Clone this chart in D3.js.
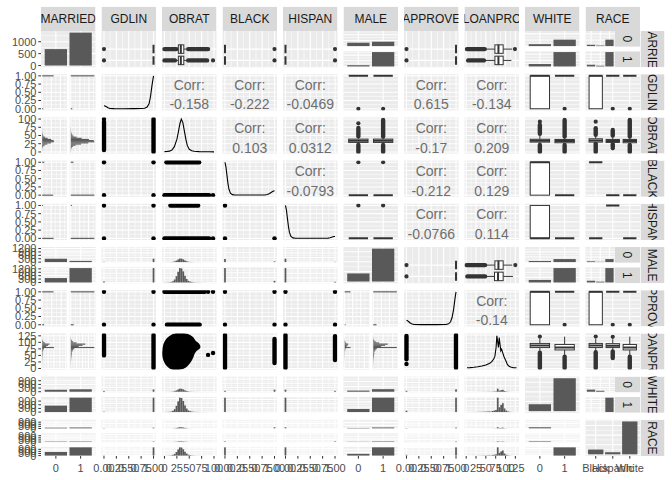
<!DOCTYPE html>
<html><head><meta charset="utf-8">
<script src="https://cdn.jsdelivr.net/npm/d3@7"></script>
<style>html,body{margin:0;padding:0;background:#fff;}svg{display:block;}</style>
</head><body><svg id="chart" width="672" height="480"></svg>
<script>
// ---------------- data ----------------
const variables = ["MARRIED","GDLIN","OBRAT","BLACK","HISPAN","MALE","APPROVE","LOANPRC","WHITE","RACE"];
const factorLevels = { MARRIED:["0","1"], MALE:["0","1"], WHITE:["0","1"], RACE:["Black","Hispanic","White"] };
const factorCounts = { MARRIED:[690,1380], MALE:[410,1660], WHITE:[360,1710], RACE:[250,110,1710] };
const crossTabs = {
  "MARRIED|MALE":  [[300,390],[110,1270]],
  "MARRIED|WHITE": [[160,530],[200,1180]],
  "MARRIED|RACE":  [[110,50,530],[140,60,1180]],
  "MALE|WHITE":    [[110,300],[250,1410]],
  "MALE|RACE":     [[80,30,300],[170,80,1410]],
  "WHITE|RACE":    [[250,110,0],[0,0,1710]]
};
const binaryVars = ["GDLIN","BLACK","HISPAN","APPROVE"];
const onesByFactor = {
  GDLIN:   { MARRIED:[630,1295], MALE:[375,1550], WHITE:[265,1660], RACE:[170,95,1660] },
  BLACK:   { MARRIED:[110,140],  MALE:[80,170],   WHITE:[250,0],    RACE:[250,0,0] },
  HISPAN:  { MARRIED:[50,60],    MALE:[30,80],    WHITE:[110,0],    RACE:[0,110,0] },
  APPROVE: { MARRIED:[590,1230], MALE:[360,1460], WHITE:[260,1560], RACE:[170,90,1560] }
};
const numRange = { GDLIN:[0,1], OBRAT:[0,100], BLACK:[0,1], HISPAN:[0,1], APPROVE:[0,1], LOANPRC:[2,128] };
const unitBreaks = [0,0.25,0.5,0.75,1];
const unitLabels = ["0.00","0.25","0.50","0.75","1.00"];
const obratBreaks = [0,25,50,75,100];
const obratLabels = ["0","25","50","75","100"];
const loanBreaks = [0,25,50,75,100,125];
const loanLabels = ["0","25","50","75","100","125"];
const countTicksLeft = { MARRIED:[0,500,1000], MALE:[0,300,600,900,1200], WHITE:[0,300,600,900], RACE:[0,300,600,900] };
const obratHist = [4,3,5,8,15,35,80,170,290,390,380,300,180,95,45,25,14,8,5,4,3,2,2,1,1,1,0,0,1,1];
const loanHist  = [2,2,3,3,4,5,6,8,10,12,15,18,22,26,20,45,60,90,600,200,300,370,150,60,25,12,6,3,2,1];
const gdlinDensX = [0,0.02,0.05,0.08,0.12,0.2,0.4,0.6,0.75,0.82,0.87,0.91,0.94,0.97,1];
const gdlinDensY = [0.09,0.085,0.06,0.03,0.01,0.003,0.002,0.003,0.006,0.015,0.05,0.15,0.38,0.72,1];
const blackDensX = [0,0.02,0.04,0.06,0.08,0.11,0.15,0.2,0.4,0.6,0.8,0.86,0.9,0.93,0.96,0.98,1];
const blackDensY = [1,0.85,0.6,0.36,0.18,0.06,0.015,0.004,0.003,0.003,0.006,0.02,0.05,0.08,0.11,0.125,0.13];
const hispanDensX = [0,0.02,0.04,0.06,0.08,0.11,0.15,0.2,0.4,0.6,0.8,0.86,0.9,0.93,0.96,0.98,1];
const hispanDensY = [1,0.85,0.6,0.36,0.18,0.06,0.015,0.004,0.002,0.002,0.003,0.008,0.02,0.035,0.05,0.055,0.058];
const approveDensX = [0,0.02,0.04,0.07,0.1,0.15,0.3,0.6,0.8,0.85,0.89,0.92,0.95,0.98,1];
const approveDensY = [0.14,0.125,0.1,0.06,0.03,0.01,0.004,0.004,0.01,0.03,0.09,0.22,0.45,0.8,1];
const obratDensX = [0,5,10,15,20,25,28,31,34,37,40,43,46,50,55,60,70,80,90,100];
const obratDensY = [0.01,0.012,0.025,0.06,0.16,0.38,0.6,0.85,1,0.9,0.65,0.4,0.2,0.08,0.035,0.02,0.01,0.006,0.004,0.003];
const loanDensX = [2,10,20,30,40,50,60,65,70,73,76,78,80,82,84,86,88,90,93,96,100,105,110,115,120,128];
const loanDensY = [0.005,0.01,0.02,0.035,0.06,0.09,0.14,0.19,0.27,0.35,0.62,0.98,0.8,0.62,0.92,0.72,0.52,0.57,0.46,0.35,0.24,0.1,0.04,0.02,0.01,0.004];
const corrValues = {
  "GDLIN|OBRAT":-0.158, "GDLIN|BLACK":-0.222, "GDLIN|HISPAN":-0.0469, "GDLIN|APPROVE":0.615, "GDLIN|LOANPRC":-0.134,
  "OBRAT|BLACK":0.103, "OBRAT|HISPAN":0.0312, "OBRAT|APPROVE":-0.17, "OBRAT|LOANPRC":0.209,
  "BLACK|HISPAN":-0.0793, "BLACK|APPROVE":-0.212, "BLACK|LOANPRC":0.129,
  "HISPAN|APPROVE":-0.0766, "HISPAN|LOANPRC":0.114, "APPROVE|LOANPRC":-0.14
};
// box stats: [lowOutFrom, lowOutTo, whiskerLow, q1, median, q3, whiskerHigh, highOutFrom, highOutTo]
const obratBoxByFactor = {
  MARRIED: [[0,21,22,28,33,39,46,48,86],[0,24,25,28,33,39,46,48,88]],
  MALE:    [[0,21,23,29,34,39,46,48,73],[0,21,23,29,34,39,46,47,97]],
  WHITE:   [[0,21,22,30,34,38.5,50,55,82],[0,21,22,28,33,38,46,47,97]],
  RACE:    [[0,26,27,30,35,40,48,52,72],[16,24,25,29,33,38,45,50,67],[0,21,22,28,33,38,46,47,97]]
};
const obratBoxPoints = { MARRIED:[[98],[]], MALE:[[87],[]], WHITE:[[92],[]], RACE:[[92],[11],[]] };
const loanBoxByFactor = {
  MARRIED: [[5,45,45,73,82,94,115,null,null],[2,47,47,73,82,94,117,null,null]],
  MALE:    [[3,48,48,72,81,94,119,null,null],[1,48,48,73,82,94,117,null,null]],
  WHITE:   [[2,60,62,80,88,96,115,null,null],[2,45,47,71,80,92,122,null,null]],
  RACE:    [[2,62,64,80,88,96,113,null,null],[40,65,66,80,87,95,112,null,null],[2,45,47,71,80,92,122,null,null]]
};
const loanBoxPoints = { MARRIED:[[],[124]], MALE:[[],[125]], WHITE:[[122],[]], RACE:[[122],[121],[]] };
// scatter summaries
const binaryCombos = {
  "GDLIN|BLACK":[[0,0],[0,1],[1,0],[1,1]], "GDLIN|HISPAN":[[0,0],[0,1],[1,0],[1,1]], "BLACK|HISPAN":[[0,0],[0,1],[1,0]],
  "GDLIN|APPROVE":[[0,0],[0,1],[1,0],[1,1]], "BLACK|APPROVE":[[0,0],[0,1],[1,0],[1,1]], "HISPAN|APPROVE":[[0,0],[0,1],[1,0],[1,1]]
};
const obratRangeByBinary = { GDLIN:[[6,92],[0,100]], BLACK:[[0,90],[4,70]], HISPAN:[[0,90],[12,68]], APPROVE:[[5,71],[0,81]] };
const obratPointsByBinary = { GDLIN:[[100],[]], BLACK:[[98],[]], HISPAN:[[98],[]], APPROVE:[[],[88,98]] };
const loanRangeByBinary = { GDLIN:[[50,128],[2,128]], BLACK:[[2,128],[21,113]], HISPAN:[[2,128],[32,124]], APPROVE:[[35,125],[2,128]] };
const loanPointsByBinary = { GDLIN:[[],[]], BLACK:[[],[]], HISPAN:[[],[]], APPROVE:[[17],[]] };
const blobObrat = [0,2,8,16,26,36,46,54,60,66,68,62,57,54,48,40,30,20,12,5,1];
const blobLoan  = [60,90,110,122,128,128,124,115,100,90,82,74,60,45,25,10,3,2,8,22,40];
const blobPtsObrat = [88,98];
const blobPtsLoan = [52,59];

// ---------------- rendering ----------------
const densityOf = { GDLIN:[gdlinDensX,gdlinDensY], BLACK:[blackDensX,blackDensY], HISPAN:[hispanDensX,hispanDensY],
  APPROVE:[approveDensX,approveDensY], OBRAT:[obratDensX,obratDensY], LOANPRC:[loanDensX,loanDensY] };
const svg = d3.select("#chart").style("font-family",'"Liberation Sans", Arial, Helvetica, sans-serif');
const defs = svg.append("defs");
const BG="#EBEBEB", BAR="#595959", INK="#333333", STRIP="#D9D9D9";
const PL=41, PTOP=31, PR=640, PB=456, GX=6, GY=7;
const PW=(PR-PL-9*GX)/10, PH=(PB-PTOP-9*GY)/10;
const FGV=4.5, FGH=2.7, STRIPW=25;
const isF = v => Object.prototype.hasOwnProperty.call(factorLevels, v);
const isBin = v => binaryVars.includes(v);
let clipN=0;
function clip(x,y,w,h){ const id="cp"+(clipN++); defs.append("clipPath").attr("id",id).append("rect").attr("x",x).attr("y",y).attr("width",w).attr("height",h); return "url(#"+id+")"; }
const breaksOf = v => v==="OBRAT"?obratBreaks:(v==="LOANPRC"?loanBreaks:unitBreaks);
const labelsOf = v => v==="OBRAT"?obratLabels:(v==="LOANPRC"?loanLabels:unitLabels);
function numScale(v,r0,r1){ const [a,b]=numRange[v], e=(b-a)*0.05; return d3.scaleLinear().domain([a-e,b+e]).range([r0,r1]); }
function discScale(n,r0,r1){ return d3.scaleLinear().domain([0.4,n+0.6]).range([r0,r1]); }
function countScale(m,r0,r1){ return d3.scaleLinear().domain([-0.05*m,1.05*m]).range([r0,r1]); }
function inDom(sc,v){ const d=sc.domain(); return v>=Math.min(d[0],d[1])-1e-9 && v<=Math.max(d[0],d[1])+1e-9; }
function numGrid(v,sc){ const br=breaksOf(v), st=br[1]-br[0]; const mn=[br[0]-st/2].concat(br.map(b=>b+st/2));
  return {maj:br.filter(b=>inDom(sc,b)).map(sc), min:mn.filter(b=>inDom(sc,b)).map(sc)}; }
function countGrid(t,sc){ const st=t.length>1?t[1]-t[0]:1; const mn=t.map(x=>x+st/2);
  return {maj:t.filter(x=>inDom(sc,x)).map(sc), min:mn.filter(x=>inDom(sc,x)).map(sc)}; }
function discGrid(n,sc){ return {maj:d3.range(1,n+1).map(sc), min:[]}; }
const panelLayer = svg.append("g");
const axisG = svg.append("g").attr("font-size",11).attr("fill","#4D4D4D");
function panelBg(x,y,w,h,gx,gy){
  const g=panelLayer.append("g");
  g.append("rect").attr("x",x).attr("y",y).attr("width",w).attr("height",h).attr("fill",BG);
  const gl=g.append("g").attr("stroke","#fff");
  const vl=(arr,sw)=>arr.forEach(p=>gl.append("line").attr("x1",p).attr("x2",p).attr("y1",y).attr("y2",y+h).attr("stroke-width",sw));
  const hl=(arr,sw)=>arr.forEach(p=>gl.append("line").attr("y1",p).attr("y2",p).attr("x1",x).attr("x2",x+w).attr("stroke-width",sw));
  vl(gx.min,0.55); hl(gy.min,0.55); vl(gx.maj,1.1); hl(gy.maj,1.1);
}
function marks(x,y,w,h){ return panelLayer.append("g").attr("clip-path",clip(x,y,w,h)); }
function leftAxis(ys,labels){ ys.forEach((y,i)=>{
  axisG.append("line").attr("x1",PL-2.7).attr("x2",PL).attr("y1",y).attr("y2",y).attr("stroke",INK).attr("stroke-width",1);
  axisG.append("text").attr("x",PL-4.6).attr("y",y).attr("dy","0.36em").attr("text-anchor","end").text(labels[i]); }); }
function bottomAxis(xs,labels){ xs.forEach((x,i)=>{
  axisG.append("line").attr("x1",x).attr("x2",x).attr("y1",PB).attr("y2",PB+2.7).attr("stroke",INK).attr("stroke-width",1);
  axisG.append("text").attr("x",x).attr("y",PB+15.5).attr("text-anchor","middle").text(labels[i]); }); }
function dot(g,x,y){ g.append("circle").attr("cx",x).attr("cy",y).attr("r",2.2).attr("fill","#000"); }
function thick(g,x1,y1,x2,y2,col){ g.append("line").attr("x1",x1).attr("y1",y1).attr("x2",x2).attr("y2",y2).attr("stroke",col||"#000").attr("stroke-width",4.4).attr("stroke-linecap","round"); }

function binaryStats(ones,tot){ const z=(tot-ones)/tot; const q1=z>0.25?0:1, med=z>0.5?0:1, q3=z>0.75?0:1;
  if(q1===q3){ const pts = q1===1 ? (tot-ones>0?[0]:[]) : (ones>0?[1]:[]); return {lo:null,hi:null,wlo:q1,whi:q1,q1,med,q3,pts}; }
  return {lo:null,hi:null,wlo:0,whi:1,q1,med,q3,pts:[]}; }
function boxStats(F,V,i){
  if(isBin(V)) return binaryStats(onesByFactor[V][F][i], factorCounts[F][i]);
  const a=(V==="OBRAT"?obratBoxByFactor:loanBoxByFactor)[F][i], pts=(V==="OBRAT"?obratBoxPoints:loanBoxPoints)[F][i];
  return {lo:a[0]==null?null:[a[0],a[1]], wlo:a[2], q1:a[3], med:a[4], q3:a[5], whi:a[6], hi:a[7]==null?null:[a[7],a[8]], pts}; }
function drawBox(g,o,pos,hw,s,sc){
  const L=(a,b,sw,cap)=>{ const l=g.append("line").attr("stroke",INK).attr("stroke-width",sw).attr("stroke-linecap",cap||"butt");
    if(o==="v") l.attr("x1",pos).attr("x2",pos).attr("y1",sc(a)).attr("y2",sc(b)); else l.attr("y1",pos).attr("y2",pos).attr("x1",sc(a)).attr("x2",sc(b)); };
  if(s.lo) L(s.lo[0],s.lo[1],4.4,"round");
  if(s.hi) L(s.hi[0],s.hi[1],4.4,"round");
  s.pts.forEach(p=>g.append("circle").attr("r",2.1).attr("fill",INK).attr(o==="v"?"cx":"cy",pos).attr(o==="v"?"cy":"cx",sc(p)));
  if(s.wlo<s.q1) L(s.wlo,s.q1,1); if(s.whi>s.q3) L(s.q3,s.whi,1);
  const a=sc(s.q1), b=sc(s.q3), m=sc(s.med);
  const r=g.append("rect").attr("fill","#fff").attr("stroke",INK).attr("stroke-width",1);
  if(o==="v"){ r.attr("x",pos-hw).attr("width",2*hw).attr("y",Math.min(a,b)).attr("height",Math.abs(a-b));
    g.append("line").attr("x1",pos-hw).attr("x2",pos+hw).attr("y1",m).attr("y2",m).attr("stroke",INK).attr("stroke-width",2); }
  else { r.attr("y",pos-hw).attr("height",2*hw).attr("x",Math.min(a,b)).attr("width",Math.abs(a-b));
    g.append("line").attr("y1",pos-hw).attr("y2",pos+hw).attr("x1",m).attr("x2",m).attr("stroke",INK).attr("stroke-width",2); }
}
function getTab(A,B){ const k=A+"|"+B; if(crossTabs[k]) return crossTabs[k];
  const t=crossTabs[B+"|"+A]; return t[0].map((_,j)=>t.map(row=>row[j])); }
function histFor(V,F,i){
  if(isBin(V)){ const ones=onesByFactor[V][F][i], tot=factorCounts[F][i]; return [{v:0,n:tot-ones},{v:1,n:ones}]; }
  const hist=V==="OBRAT"?obratHist:loanHist, [a,b]=numRange[V], st=(b-a)/29, share=factorCounts[F][i]/d3.sum(factorCounts[F]);
  return hist.map((cnt,k)=>({v:a+k*st, n:cnt*share})); }
const binW = V => (numRange[V][1]-numRange[V][0])/29;

function diagBar(v,x0,y0,w,h,r,c){
  const lv=factorLevels[v], cnt=factorCounts[v], n=lv.length, m=d3.max(cnt);
  const xs=discScale(n,x0,x0+w), ys=countScale(m,y0+h,y0);
  const ticks = c===0 ? countTicksLeft[v] : d3.ticks(0,m,4);
  panelBg(x0,y0,w,h,discGrid(n,xs),countGrid(ticks,ys));
  marks(x0,y0,w,h).selectAll("rect").data(cnt).join("rect").attr("x",(d,i)=>xs(i+0.55)).attr("width",xs(1.45)-xs(0.55))
    .attr("y",d=>ys(d)).attr("height",d=>ys(0)-ys(d)).attr("fill",BAR);
  if(c===0) leftAxis(ticks.map(ys),ticks.map(String));
  if(r===9) bottomAxis(lv.map((d,i)=>xs(i+1)),lv);
}
function diagDens(v,x0,y0,w,h){
  const [dx,dy]=densityOf[v]; const xs=numScale(v,x0,x0+w), ys=d3.scaleLinear().domain([-0.05,1.05]).range([y0+h,y0]);
  panelBg(x0,y0,w,h,numGrid(v,xs),countGrid([0,0.25,0.5,0.75,1],ys));
  marks(x0,y0,w,h).append("path").attr("d",d3.line().x(d=>xs(d[0])).y(d=>ys(d[1]))(d3.zip(dx,dy)))
    .attr("fill","none").attr("stroke","#000").attr("stroke-width",1.1);
}
function corrPanel(rv,cv,x0,y0,w,h){
  const xs=numScale(cv,x0,x0+w), ys=numScale(rv,y0+h,y0);
  panelBg(x0,y0,w,h,numGrid(cv,xs),numGrid(rv,ys));
  const t=panelLayer.append("g").attr("fill","#6E6E6E").attr("font-size",14).attr("text-anchor","middle");
  t.append("text").attr("x",x0+w/2).attr("y",y0+h*0.43).text("Corr:");
  t.append("text").attr("x",x0+w/2).attr("y",y0+h*0.97).text(String(corrValues[rv+"|"+cv]));
}
function hBoxPanel(F,V,x0,y0,w,h){
  const n=factorLevels[F].length; const xs=numScale(V,x0,x0+w), ys=d3.scaleLinear().domain([0.4,n+1.6]).range([y0+h,y0]);
  panelBg(x0,y0,w,h,numGrid(V,xs),discGrid(n,ys));
  const g=marks(x0,y0,w,h), hw=Math.abs(ys(0.375)-ys(0));
  factorLevels[F].forEach((l,i)=>drawBox(g,"h",ys(i+1),hw,boxStats(F,V,i),xs));
}
function vBoxPanel(F,V,x0,y0,w,h){
  const n=factorLevels[F].length; const xs=discScale(n,x0,x0+w), ys=numScale(V,y0+h,y0);
  panelBg(x0,y0,w,h,discGrid(n,xs),numGrid(V,ys));
  const g=marks(x0,y0,w,h), hw=xs(0.39)-xs(0);
  factorLevels[F].forEach((l,i)=>drawBox(g,"v",xs(i+1),hw,boxStats(F,V,i),ys));
}
function facetBarPanel(Rf,Cf,x0,y0,w,h,r,c){
  const tab=getTab(Rf,Cf), rl=factorLevels[Rf], cl=factorLevels[Cf], nR=rl.length, nC=cl.length, m=d3.max(tab.flat());
  const strip=(r<c && c===9), pw=w-(strip?STRIPW:0), fh=(h-(nR-1)*FGV)/nR;
  const xs=discScale(nC,x0,x0+pw);
  rl.forEach((lvl,i)=>{
    const fy=y0+i*(fh+FGV), ys=countScale(m,fy+fh,fy), ticks=c===0?countTicksLeft[Rf]:d3.ticks(0,m,3);
    panelBg(x0,fy,pw,fh,discGrid(nC,xs),countGrid(ticks,ys));
    marks(x0,fy,pw,fh).selectAll("rect").data(tab[i]).join("rect").attr("x",(d,j)=>xs(j+0.55)).attr("width",xs(1.45)-xs(0.55))
      .attr("y",d=>ys(d)).attr("height",d=>ys(0)-ys(d)).attr("fill",BAR);
    if(strip){ const sg=panelLayer.append("g").attr("clip-path",clip(x0+pw,fy,STRIPW,fh));
      sg.append("rect").attr("x",x0+pw).attr("y",fy).attr("width",STRIPW).attr("height",fh).attr("fill",STRIP);
      sg.append("text").attr("transform",`translate(${x0+pw+STRIPW/2},${fy+fh/2}) rotate(90)`).attr("text-anchor","middle")
        .attr("dy","0.36em").attr("font-size",12).attr("fill","#1A1A1A").text(lvl); }
    if(c===0) leftAxis(ticks.map(ys),ticks.map(String));
  });
  if(r===9) bottomAxis(cl.map((d,j)=>xs(j+1)),cl);
}
function hFacetHist(F,V,x0,y0,w,h,c){
  const lv=factorLevels[F], n=lv.length, fw=(w-(n-1)*FGH)/n, ys=numScale(V,y0+h,y0), bw=binW(V);
  const series=lv.map((l,i)=>histFor(V,F,i)), m=d3.max(series.flat(),d=>d.n);
  lv.forEach((l,i)=>{
    const fx=x0+i*(fw+FGH), xs=countScale(m,fx,fx+fw);
    panelBg(fx,y0,fw,h,countGrid(d3.ticks(0,m,3),xs),numGrid(V,ys));
    marks(fx,y0,fw,h).selectAll("rect").data(series[i].filter(d=>d.n>0)).join("rect").attr("x",xs(0)).attr("width",d=>xs(d.n)-xs(0))
      .attr("y",d=>ys(d.v+bw/2)).attr("height",d=>ys(d.v-bw/2)-ys(d.v+bw/2)).attr("fill",BAR);
  });
  if(c===0){ const br=breaksOf(V).filter(b=>inDom(ys,b)); leftAxis(br.map(ys),labelsOf(V)); }
}
function vFacetHist(F,V,x0,y0,w,h,r){
  const lv=factorLevels[F], n=lv.length, fh=(h-(n-1)*FGV)/n, xs=numScale(V,x0,x0+w), bw=binW(V);
  const series=lv.map((l,i)=>histFor(V,F,i)), m=d3.max(series.flat(),d=>d.n);
  lv.forEach((l,i)=>{
    const fy=y0+i*(fh+FGV), ys=countScale(m,fy+fh,fy);
    panelBg(x0,fy,w,fh,numGrid(V,xs),countGrid(d3.ticks(0,m,3),ys));
    marks(x0,fy,w,fh).selectAll("rect").data(series[i].filter(d=>d.n>0)).join("rect").attr("x",d=>xs(d.v-bw/2)).attr("width",d=>xs(d.v+bw/2)-xs(d.v-bw/2))
      .attr("y",d=>ys(d.n)).attr("height",d=>ys(0)-ys(d.n)).attr("fill",BAR);
  });
  if(r===9){ const br=breaksOf(V); bottomAxis(br.map(xs),labelsOf(V)); }
}
function scatterPanel(xv,yv,x0,y0,w,h){
  const xs=numScale(xv,x0,x0+w), ys=numScale(yv,y0+h,y0);
  panelBg(x0,y0,w,h,numGrid(xv,xs),numGrid(yv,ys));
  const g=marks(x0,y0,w,h);
  if(isBin(xv)&&isBin(yv)){ binaryCombos[xv+"|"+yv].forEach(([a,b])=>dot(g,xs(a),ys(b))); }
  else if(isBin(xv)){
    const R=(yv==="OBRAT"?obratRangeByBinary:loanRangeByBinary)[xv], P=(yv==="OBRAT"?obratPointsByBinary:loanPointsByBinary)[xv];
    R.forEach((rg,k)=>thick(g,xs(k),ys(rg[0]),xs(k),ys(rg[1])));
    P.forEach((ps,k)=>ps.forEach(p=>dot(g,xs(k),ys(p))));
  } else if(isBin(yv)){
    const R=obratRangeByBinary[yv], P=obratPointsByBinary[yv];
    R.forEach((rg,k)=>thick(g,xs(rg[0]),ys(k),xs(rg[1]),ys(k)));
    P.forEach((ps,k)=>ps.forEach(p=>dot(g,xs(p),ys(k))));
  } else {
    g.append("path").attr("d",d3.line().curve(d3.curveCardinalClosed).x(d=>xs(d[0])).y(d=>ys(d[1]))(d3.zip(blobObrat,blobLoan)))
      .attr("fill","#000").attr("stroke","#000").attr("stroke-width",4.4).attr("stroke-linejoin","round");
    blobPtsObrat.forEach((p,k)=>dot(g,xs(p),ys(blobPtsLoan[k])));
  }
}

for(let r=0;r<10;r++) for(let c=0;c<10;c++){
  const rv=variables[r], cv=variables[c], x0=PL+c*(PW+GX), y0=PTOP+r*(PH+GY);
  if(r===c){ if(isF(rv)) diagBar(rv,x0,y0,PW,PH,r,c); else diagDens(rv,x0,y0,PW,PH); }
  else if(r<c){
    if(!isF(rv)&&!isF(cv)) corrPanel(rv,cv,x0,y0,PW,PH);
    else if(isF(rv)&&!isF(cv)) hBoxPanel(rv,cv,x0,y0,PW,PH);
    else if(!isF(rv)&&isF(cv)) vBoxPanel(cv,rv,x0,y0,PW,PH);
    else facetBarPanel(rv,cv,x0,y0,PW,PH,r,c);
  } else {
    if(!isF(rv)&&!isF(cv)) scatterPanel(cv,rv,x0,y0,PW,PH);
    else if(!isF(rv)&&isF(cv)) hFacetHist(cv,rv,x0,y0,PW,PH,c);
    else if(isF(rv)&&!isF(cv)) vFacetHist(rv,cv,x0,y0,PW,PH,r);
    else facetBarPanel(rv,cv,x0,y0,PW,PH,r,c);
  }
}
// strips
const stripG = svg.append("g").attr("font-size",12).attr("fill","#1A1A1A");
variables.forEach((v,c)=>{
  const x0=PL+c*(PW+GX);
  const g=stripG.append("g").attr("clip-path",clip(x0,6.7,PW,24.3));
  g.append("rect").attr("x",x0).attr("y",6.7).attr("width",PW).attr("height",24.3).attr("fill",STRIP);
  g.append("text").attr("x",x0+PW/2).attr("y",23.2).attr("text-anchor","middle").text(v);
});
variables.forEach((v,r)=>{
  const y0=PTOP+r*(PH+GY), sx=PR+0.5, sw=24;
  const g=stripG.append("g").attr("clip-path",clip(sx,y0,sw,PH));
  g.append("rect").attr("x",sx).attr("y",y0).attr("width",sw).attr("height",PH).attr("fill",STRIP);
  g.append("text").attr("transform",`translate(${sx+sw/2},${y0+PH/2}) rotate(90)`).attr("text-anchor","middle").attr("dy","0.36em").text(v);
});
</script></body></html>
